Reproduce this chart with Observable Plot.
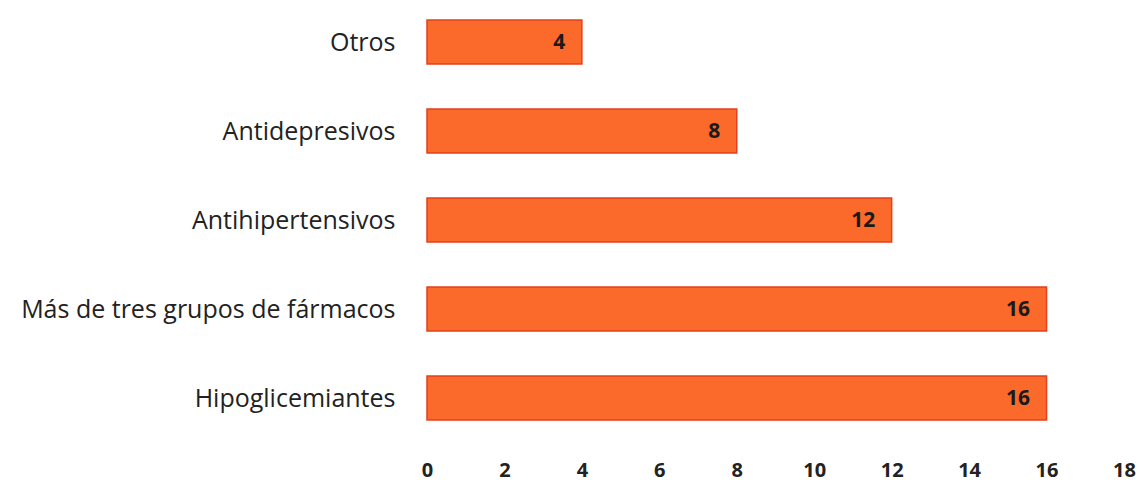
<!DOCTYPE html>
<html><head><meta charset="utf-8">
<script src="https://cdn.jsdelivr.net/npm/d3@7"></script>
<script src="https://cdn.jsdelivr.net/npm/@observablehq/plot@0.6"></script>
<style>body{margin:0;background:#fff;} svg{display:block;}</style>
</head><body><div id="chart"></div>
<script>
const categories = ["Otros", "Antidepresivos", "Antihipertensivos", "Más de tres grupos de fármacos", "Hipoglicemiantes"];
const values = [4, 8, 12, 16, 16];
const xTicks = [0, 2, 4, 6, 8, 10, 12, 14, 16, 18];
const data = categories.map((c, i) => ({category: c, value: values[i]}));

const chart = Plot.plot({
  width: 1140,
  height: 482,
  marginLeft: 427,
  marginRight: 16,
  marginTop: 18,
  marginBottom: 60,
  style: {fontFamily: "'Open Sans', sans-serif", background: "#fff"},
  x: {domain: [0, 18], ticks: xTicks, label: null},
  y: {domain: categories, paddingInner: 0.51, paddingOuter: 0, label: null},
  marks: [
    Plot.barX(data, {x: "value", y: "category", fill: "#fb6a2a", stroke: "#e2401e", strokeWidth: 1.5}),
    Plot.text(data, {x: "value", y: "category", text: d => String(d.value), textAnchor: "end", dx: -17, fontSize: 21, fontWeight: "bold", fill: "#1a1a1a"}),
    Plot.axisY({tickSize: 0, tickPadding: 32, fontSize: 25, fill: "#222", label: null}),
    Plot.axisX({ticks: xTicks, tickSize: 0, tickPadding: 40, fontSize: 20, fontWeight: "bold", fill: "#222", label: null})
  ]
});
document.getElementById("chart").append(chart);
</script></body></html>
